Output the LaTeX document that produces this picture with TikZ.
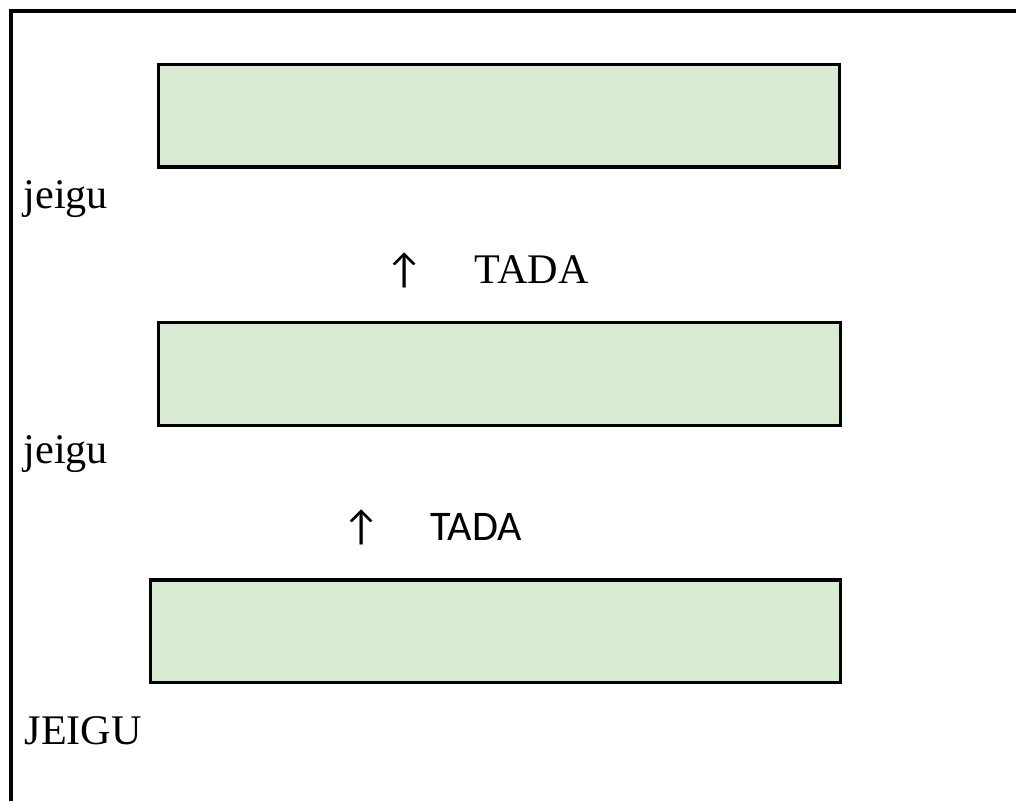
\documentclass[tikz,border=0pt]{standalone}
\usepackage{fontspec}
\setmainfont{Liberation Serif}
\newfontfamily\carlito{Carlito}
\usepackage{tikz}
\definecolor{boxgreen}{HTML}{D9EAD3}

\begin{document}
\begin{tikzpicture}[>=latex,
    greenbox/.style={draw, line width=0.9pt, fill=boxgreen, inner sep=0pt,
      minimum height=1.025cm},
    serif/.style={inner sep=0pt, font=\fontsize{12}{14}\selectfont},
    sans/.style={inner sep=0pt, font=\carlito\fontsize{12}{14}\selectfont}]
  \useasboundingbox (0,0) rectangle (10.16,-8.01);
  \draw [line width=0.9pt] (10.16,-0.11) -- (0.11,-0.11) -- (0.11,-8.01);
  % green boxes
  \node (box1) at (4.99,-1.158) [greenbox, minimum width=6.817cm] {};
  \node (box2) at (4.993,-3.74) [greenbox, minimum width=6.82cm] {};
  \node (box3) at (4.956,-6.312) [greenbox, minimum width=6.898cm] {};
  % labels
  \node (jeigu1) at (0.23,-2.083) [serif, anchor=base west] {jeigu};
  \node (up1) at (4.045,-2.70) [sans] {↑};
  \node (tada1) at (4.74,-2.833) [serif, anchor=base west] {TADA};
  \node (jeigu2) at (0.23,-4.633) [serif, anchor=base west] {jeigu};
  \node (up2) at (3.62,-5.275) [sans] {↑};
  \node (tada2) at (4.30,-5.41) [sans, anchor=base west] {TADA};
  \node (jeigu3) at (0.24,-7.443) [serif, anchor=base west] {JEIGU};
\end{tikzpicture}
\end{document}
